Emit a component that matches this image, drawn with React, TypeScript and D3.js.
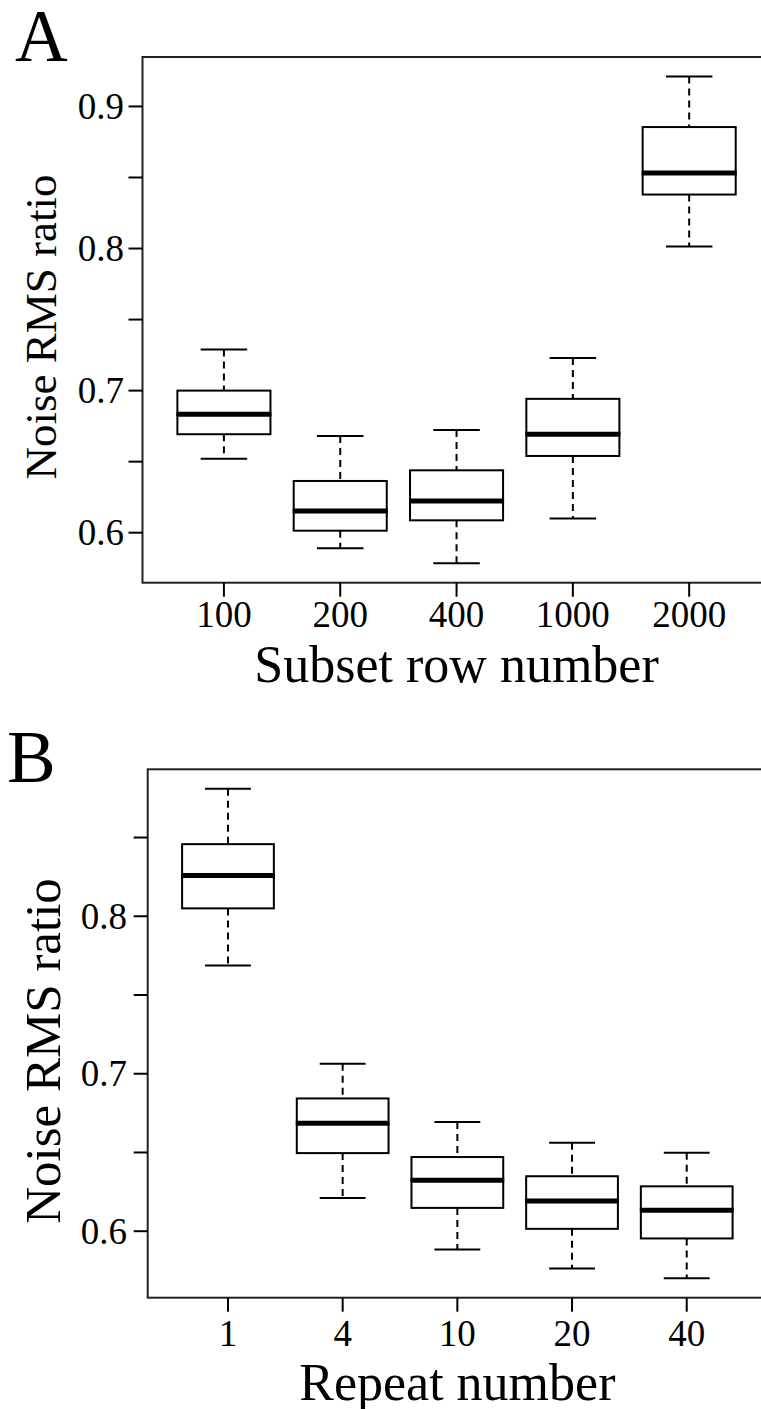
import React from "react";
import * as d3 from "d3";

// ---- Data ----
const categoriesA = ["100", "200", "400", "1000", "2000"];
const lowerA = [0.652, 0.589, 0.5785, 0.61, 0.8014];
const q1A = [0.6693, 0.6014, 0.6087, 0.654, 0.838];
const medianA = [0.6834, 0.6153, 0.6223, 0.6693, 0.8531];
const q3A = [0.7, 0.6364, 0.6439, 0.6942, 0.8855];
const upperA = [0.729, 0.668, 0.6723, 0.723, 0.9211];
const yTicksA = [0.6, 0.65, 0.7, 0.75, 0.8, 0.85, 0.9];
const yLabelsA = [0.6, 0.7, 0.8, 0.9];

const categoriesB = ["1", "4", "10", "20", "40"];
const lowerB = [0.7687, 0.6211, 0.5884, 0.5763, 0.5702];
const q1B = [0.805, 0.6496, 0.6148, 0.6015, 0.5954];
const medianB = [0.8259, 0.6686, 0.6323, 0.6192, 0.6133];
const q3B = [0.8458, 0.6843, 0.6471, 0.6349, 0.6285];
const upperB = [0.8809, 0.7063, 0.6693, 0.6562, 0.6499];
const yTicksB = [0.6, 0.65, 0.7, 0.75, 0.8, 0.85];
const yLabelsB = [0.6, 0.7, 0.8];

const FONT = "'Liberation Serif', 'Times New Roman', serif";

type PanelProps = {
  letter: string;
  letterX: number;
  letterY: number;
  categories: string[];
  lower: number[];
  q1: number[];
  median: number[];
  q3: number[];
  upper: number[];
  yTicks: number[];
  yLabels: number[];
  left: number;
  right: number;
  top: number;
  bottom: number;
  xTitle: string;
  xTickBaseline: number;
  xTitleBaseline: number;
  xTitleSize: number;
  yTitleX: number;
  yTitleY: number;
  yTitleSize: number;
  yLabelRight: number;
};

function Panel(p: PanelProps) {
  const n = p.categories.length;
  const x = d3.scaleLinear().domain([0.3, n + 0.7]).range([p.left, p.right]);
  const lo = d3.min(p.lower) as number;
  const hi = d3.max(p.upper) as number;
  const ext = (hi - lo) * 0.04;
  const y = d3.scaleLinear().domain([lo - ext, hi + ext]).range([p.bottom, p.top]);
  const boxW = x(0.8) - x(0);
  const capW = boxW / 2;
  const fmt = d3.format(".1f");
  const tickLen = 14;

  return (
    <g>
      <text x={p.letterX} y={p.letterY} fontFamily={FONT} fontSize={73} fill="#000">
        {p.letter}
      </text>
      {p.categories.map((c, i) => {
        const cx = x(i + 1);
        return (
          <g key={c}>
            <line x1={cx} x2={cx} y1={y(p.upper[i])} y2={y(p.q3[i])} stroke="#000" strokeWidth={2} strokeDasharray="7,5" />
            <line x1={cx} x2={cx} y1={y(p.q1[i])} y2={y(p.lower[i])} stroke="#000" strokeWidth={2} strokeDasharray="7,5" />
            <line x1={cx - capW / 2} x2={cx + capW / 2} y1={y(p.upper[i])} y2={y(p.upper[i])} stroke="#000" strokeWidth={2} />
            <line x1={cx - capW / 2} x2={cx + capW / 2} y1={y(p.lower[i])} y2={y(p.lower[i])} stroke="#000" strokeWidth={2} />
            <rect x={cx - boxW / 2} y={y(p.q3[i])} width={boxW} height={y(p.q1[i]) - y(p.q3[i])} fill="#fff" stroke="#000" strokeWidth={2} />
            <line x1={cx - boxW / 2 - 1} x2={cx + boxW / 2 + 1} y1={y(p.median[i])} y2={y(p.median[i])} stroke="#000" strokeWidth={5} />
          </g>
        );
      })}
      {/* frame */}
      <rect x={p.left} y={p.top} width={p.right - p.left} height={p.bottom - p.top} fill="none" stroke="#222" strokeWidth={2} />
      {/* y axis */}
      {p.yTicks.map((t) => (
        <line key={"yt" + t} x1={p.left - tickLen} x2={p.left} y1={y(t)} y2={y(t)} stroke="#000" strokeWidth={2} />
      ))}
      {p.yLabels.map((t) => (
        <text key={"yl" + t} x={p.yLabelRight} y={y(t) + 12.5} textAnchor="end" fontFamily={FONT} fontSize={37} fill="#000">
          {fmt(t)}
        </text>
      ))}
      {/* x axis */}
      {p.categories.map((c, i) => (
        <g key={"xt" + c}>
          <line x1={x(i + 1)} x2={x(i + 1)} y1={p.bottom} y2={p.bottom + tickLen} stroke="#000" strokeWidth={2} />
          <text x={x(i + 1)} y={p.xTickBaseline} textAnchor="middle" fontFamily={FONT} fontSize={37} fill="#000">
            {c}
          </text>
        </g>
      ))}
      <text x={(p.left + p.right) / 2} y={p.xTitleBaseline} textAnchor="middle" fontFamily={FONT} fontSize={p.xTitleSize} fill="#000">
        {p.xTitle}
      </text>
      <text
        transform={`translate(${p.yTitleX},${p.yTitleY}) rotate(-90)`}
        textAnchor="middle"
        fontFamily={FONT}
        fontSize={p.yTitleSize}
        fill="#000"
      >
        Noise RMS ratio
      </text>
    </g>
  );
}

export default function App() {
  return (
    <svg width={761} height={1409} style={{ position: "absolute", left: 0, top: 0, background: "#fff" }}>
      <rect x={0} y={0} width={761} height={1409} fill="#fff" />
      <Panel
        letter="A"
        letterX={15}
        letterY={61}
        categories={categoriesA}
        lower={lowerA}
        q1={q1A}
        median={medianA}
        q3={q3A}
        upper={upperA}
        yTicks={yTicksA}
        yLabels={yLabelsA}
        left={142.5}
        right={770.6}
        top={57}
        bottom={582.7}
        xTitle="Subset row number"
        xTickBaseline={627}
        xTitleBaseline={682}
        xTitleSize={52}
        yTitleX={56}
        yTitleY={327}
        yTitleSize={45}
        yLabelRight={124}
      />
      <Panel
        letter="B"
        letterX={7}
        letterY={782}
        categories={categoriesB}
        lower={lowerB}
        q1={q1B}
        median={medianB}
        q3={q3B}
        upper={upperB}
        yTicks={yTicksB}
        yLabels={yLabelsB}
        left={147.7}
        right={767}
        top={769.3}
        bottom={1297.7}
        xTitle="Repeat number"
        xTickBaseline={1346}
        xTitleBaseline={1400}
        xTitleSize={52}
        yTitleX={60}
        yTitleY={1051}
        yTitleSize={51}
        yLabelRight={127}
      />
    </svg>
  );
}
